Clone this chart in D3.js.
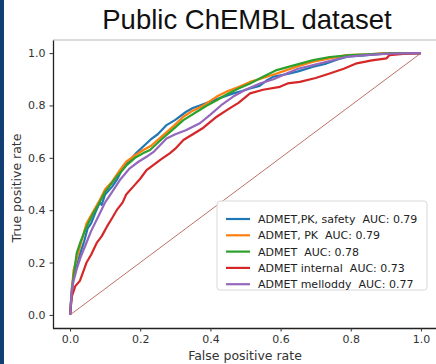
<!DOCTYPE html>
<html>
<head>
<meta charset="utf-8">
<script src="https://cdn.jsdelivr.net/npm/d3@7"></script>
<style>
  body { margin: 0; background: #fff; }
  text { white-space: pre; }
</style>
</head>
<body>
<svg width="436" height="364"></svg>
<script>
const svg = d3.select('svg');

const width = +svg.attr('width');
const height = +svg.attr('height');

// series labels, legend order
const labels = [
  'ADMET,PK, safety  AUC: 0.79',
  'ADMET, PK  AUC: 0.79',
  'ADMET  AUC: 0.78',
  'ADMET internal  AUC: 0.73',
  'ADMET melloddy  AUC: 0.77'
];
const colors = ['#1f77b4', '#ff7f0e', '#2ca02c', '#d62728', '#9467bd'];
const ticks = [0, 0.2, 0.4, 0.6, 0.8, 1.0];

// [fpr, tpr]
const safety = [
  [0,0],[0.005,0.1],[0.01,0.15],[0.02,0.19],[0.03,0.24],[0.04,0.28],[0.05,0.33],[0.06,0.35],
  [0.075,0.4],[0.085,0.43],[0.09,0.42],[0.1,0.46],[0.12,0.49],[0.135,0.52],[0.15,0.56],
  [0.17,0.59],[0.19,0.62],[0.21,0.645],[0.23,0.67],[0.25,0.69],[0.275,0.725],[0.3,0.745],
  [0.33,0.775],[0.35,0.79],[0.37,0.8],[0.4,0.815],[0.43,0.83],[0.465,0.846],[0.49,0.855],
  [0.513,0.865],[0.54,0.875],[0.56,0.895],[0.58,0.91],[0.62,0.92],[0.65,0.93],[0.693,0.948],
  [0.73,0.96],[0.76,0.975],[0.79,0.986],[0.83,0.99],[0.88,0.996],[0.92,1],[1,1]
];
const pk = [
  [0,0],[0.005,0.09],[0.01,0.17],[0.02,0.22],[0.03,0.27],[0.047,0.35],[0.06,0.38],[0.085,0.44],
  [0.1,0.48],[0.12,0.51],[0.142,0.553],[0.16,0.585],[0.18,0.605],[0.209,0.63],[0.23,0.645],
  [0.26,0.68],[0.294,0.72],[0.323,0.757],[0.35,0.78],[0.38,0.8],[0.418,0.834],[0.45,0.855],
  [0.48,0.87],[0.513,0.89],[0.55,0.905],[0.585,0.92],[0.617,0.935],[0.65,0.95],[0.693,0.967],
  [0.74,0.98],[0.788,0.992],[0.85,0.995],[0.9,1],[1,1]
];
const admet = [
  [0,0],[0.005,0.08],[0.01,0.15],[0.019,0.236],[0.03,0.28],[0.045,0.33],[0.066,0.388],[0.08,0.42],
  [0.1,0.47],[0.133,0.528],[0.16,0.57],[0.185,0.6],[0.209,0.618],[0.228,0.63],[0.26,0.67],
  [0.29,0.705],[0.323,0.744],[0.36,0.775],[0.39,0.8],[0.418,0.82],[0.45,0.845],[0.48,0.865],
  [0.513,0.884],[0.55,0.91],[0.589,0.935],[0.63,0.95],[0.693,0.973],[0.74,0.985],[0.8,0.992],
  [0.86,0.996],[0.92,1],[1,1]
];
const internal = [
  [0,0],[0.005,0.07],[0.015,0.11],[0.028,0.13],[0.047,0.2],[0.06,0.23],[0.076,0.275],[0.09,0.3],
  [0.105,0.337],[0.12,0.37],[0.133,0.4],[0.15,0.43],[0.16,0.46],[0.18,0.49],[0.2,0.52],
  [0.218,0.553],[0.24,0.575],[0.26,0.595],[0.285,0.618],[0.3,0.635],[0.323,0.668],[0.35,0.69],
  [0.38,0.715],[0.418,0.757],[0.45,0.785],[0.48,0.81],[0.513,0.846],[0.55,0.86],[0.598,0.871],
  [0.62,0.884],[0.655,0.89],[0.7,0.905],[0.74,0.922],[0.78,0.94],[0.817,0.961],[0.86,0.972],
  [0.902,0.98],[0.91,0.992],[0.95,0.997],[1,1]
];
const melloddy = [
  [0,0],[0.005,0.09],[0.01,0.13],[0.02,0.18],[0.03,0.22],[0.045,0.27],[0.06,0.32],[0.085,0.388],
  [0.1,0.43],[0.12,0.47],[0.142,0.515],[0.17,0.56],[0.195,0.585],[0.218,0.604],[0.24,0.625],
  [0.275,0.674],[0.3,0.69],[0.33,0.705],[0.37,0.732],[0.4,0.765],[0.43,0.8],[0.465,0.834],
  [0.5,0.86],[0.541,0.884],[0.58,0.9],[0.617,0.922],[0.65,0.94],[0.693,0.954],[0.74,0.97],
  [0.788,0.986],[0.85,0.993],[0.91,0.998],[1,1]
];
const series = [safety, pk, admet, internal, melloddy];
const diagonal = [[0,0],[1,1]];

// dark strip on the left edge
svg.append('rect').attr('x', 0).attr('y', 0).attr('width', 4).attr('height', height)
  .attr('fill', '#123f73');

svg.append('text')
  .attr('x', 247).attr('y', 29)
  .attr('text-anchor', 'middle')
  .style('font-family', 'Liberation Sans, Arial, sans-serif')
  .style('font-size', '27.5px')
  .attr('fill', '#111')
  .text('Public ChEMBL dataset');

const margin = { top: 40, left: 53, bottom: 328 };
const xScale = d3.scaleLinear().domain([-0.05, 1.05]).range([52.5, 438.5]);
const yScale = d3.scaleLinear().domain([-0.05, 1.05]).range([328, 40]);

const g = svg.append('g');

// faint top frame line
g.append('line')
  .attr('x1', margin.left).attr('x2', width)
  .attr('y1', margin.top).attr('y2', margin.top)
  .attr('stroke', '#cfcfcf').attr('stroke-width', 1.5);

const line = d3.line().x(d => xScale(d[0])).y(d => yScale(d[1]));

g.append('path').datum(diagonal)
  .attr('d', line)
  .attr('fill', 'none')
  .attr('stroke', '#b5605a')
  .attr('stroke-width', 0.9);

g.selectAll('path.roc').data(series)
  .enter().append('path')
  .attr('class', 'roc')
  .attr('d', line)
  .attr('fill', 'none')
  .attr('stroke', (d, i) => colors[i])
  .attr('stroke-width', 2.2)
  .attr('stroke-linejoin', 'round');

const axisStyle = sel => {
  sel.select('.domain').attr('stroke', '#222').attr('stroke-width', 1.3);
  sel.selectAll('.tick line').attr('stroke', '#333');
  sel.selectAll('.tick text')
    .style('font-family', 'DejaVu Sans, sans-serif')
    .style('font-size', '11px')
    .attr('fill', '#333');
};

g.append('g')
  .attr('transform', `translate(0, ${margin.bottom})`)
  .call(d3.axisBottom(xScale).tickValues(ticks).tickFormat(d3.format('.1f'))
    .tickSize(3.5).tickPadding(4).tickSizeOuter(0))
  .call(axisStyle);

g.append('g')
  .attr('transform', `translate(${margin.left}, 0)`)
  .call(d3.axisLeft(yScale).tickValues(ticks).tickFormat(d3.format('.1f'))
    .tickSize(3.5).tickPadding(4).tickSizeOuter(0))
  .call(axisStyle);

svg.append('text')
  .attr('x', 245).attr('y', 360)
  .attr('text-anchor', 'middle')
  .style('font-family', 'DejaVu Sans, sans-serif')
  .style('font-size', '12.5px')
  .attr('fill', '#333')
  .text('False positive rate');

svg.append('text')
  .attr('transform', 'translate(21, 188) rotate(-90)')
  .attr('text-anchor', 'middle')
  .style('font-family', 'DejaVu Sans, sans-serif')
  .style('font-size', '12.5px')
  .attr('fill', '#333')
  .text('True positive rate');

// legend
const legend = svg.append('g').attr('transform', 'translate(217, 201)');
legend.append('rect')
  .attr('width', 210).attr('height', 89)
  .attr('rx', 3)
  .attr('fill', '#fff').attr('fill-opacity', 0.9)
  .attr('stroke', '#d8d8d8');

const rows = legend.selectAll('g.row').data(labels)
  .enter().append('g')
  .attr('class', 'row')
  .attr('transform', (d, i) => `translate(0, ${18 + i * 16.3})`);

rows.append('line')
  .attr('x1', 9).attr('x2', 33)
  .attr('stroke', (d, i) => colors[i])
  .attr('stroke-width', 2.2);

rows.append('text')
  .attr('x', 41).attr('y', 4)
  .style('font-family', 'DejaVu Sans, sans-serif')
  .style('font-size', '11px')
  .attr('fill', '#222')
  .text(d => d);
</script>
</body>
</html>
